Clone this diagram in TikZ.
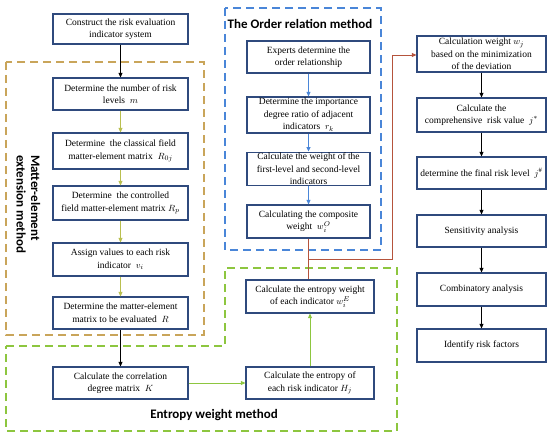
\documentclass[tikz,border=0pt]{standalone}
\usepackage{fontspec}
\setmainfont{Liberation Serif}
\newfontfamily\headfont{Carlito}
\usepackage{tikz}
\usetikzlibrary{arrows.meta}

\definecolor{boxblue}{HTML}{2F4A7D}
\definecolor{matterorange}{HTML}{C9A55A}
\definecolor{olivearrow}{HTML}{B9BF4F}
\definecolor{orderblue}{HTML}{4A86D8}
\definecolor{entropygreen}{HTML}{8DC63F}
\definecolor{linkred}{HTML}{B5533C}

\begin{document}
\begin{tikzpicture}[x=1pt, y=-1pt,
  box/.style={draw=boxblue, line width=1.2pt, fill=white, align=center, inner sep=1pt, font=\fontsize{9.5}{12.5}\selectfont},
  leftbox/.style={box, minimum width=135pt},
  midbox/.style={box, minimum width=123pt},
  rightbox/.style={box, minimum width=129pt},
  flow/.style={-{Triangle[length=4.5pt,width=4pt]}, line width=0.9pt},
  frame/.style={dash pattern=on 8pt off 5pt, line width=1.1pt},
  head/.style={font=\headfont\bfseries\fontsize{13}{14.5}\selectfont}]
  \useasboundingbox (0,0) rectangle (550,438);

  \draw[frame, matterorange] (6,62) rectangle (204,335);
  \draw[frame, orderblue] (225,8) rectangle (381,250);
  \draw[frame, entropygreen] (6,346) -- (225,346) -- (225,268) -- (397,268) -- (397,431) -- (6,431) -- cycle;

  \node[head, rotate=-90, align=left] (mattertitle) at (28.5,204) {Matter-element\\extension method};
  \node[head] (ordertitle) at (300,24) {The Order relation method};
  \node[head] (entropytitle) at (214,415) {Entropy weight method};

  \node[leftbox, minimum height=30pt] (cons) at (120.5,29) {Construct the risk evaluation\\indicator system};
  \node[leftbox, minimum height=32pt] (levels) at (120.5,94) {Determine the number of risk\\levels \ $m$};
  \node[leftbox, minimum height=36pt] (classic) at (120.5,151) {Determine \ the classical field\\matter-element matrix \ $R_{0j}$};
  \node[leftbox, minimum height=34pt] (controlled) at (120.5,203) {Determine \ the controlled\\field matter-element matrix $R_p$};
  \node[leftbox, minimum height=33pt] (assign) at (120.5,259.5) {Assign values to each risk\\indicator \ $v_i$};
  \node[leftbox, minimum height=32pt] (evaluated) at (120.5,313) {Determine the matter-element\\matrix to be evaluated \ $R$};
  \node[leftbox, minimum height=32pt] (correl) at (120.5,383) {Calculate the correlation\\degree matrix \ $K$};

  \node[midbox, minimum height=32pt] (experts) at (308.5,57) {Experts determine the\\order relationship};
  \node[midbox, minimum height=36pt] (ratio) at (308.5,115) {Determine the importance\\degree ratio of adjacent\\indicators \ $r_k$};
  \node[midbox, minimum height=32pt] (firstlevel) at (308.5,169) {Calculate the weight of the\\first-level and second-level\\indicators};
  \node[midbox, minimum height=33pt] (composite) at (308.5,221.5) {Calculating the composite\\weight \ $w_i^{O}$};
  \node[box, minimum width=128pt, minimum height=33pt] (entweight) at (310,296.5) {Calculate the entropy weight\\of each indicator $w_i^{E}$};
  \node[box, minimum width=128pt, minimum height=32pt] (entropy) at (310,383) {Calculate the entropy of\\each risk indicator $H_j$};

  \node[rightbox, minimum height=36pt] (deviation) at (481.5,54) {Calculation weight $w_j$\\based on the minimization\\of the deviation};
  \node[rightbox, minimum height=34pt] (riskvalue) at (481.5,115) {Calculate the\\comprehensive \ risk value \ $j^{*}$};
  \node[rightbox, minimum height=32pt] (risklevel) at (481.5,173) {determine the final risk level \ $j^{\#}$};
  \node[rightbox, minimum height=32pt] (sensitivity) at (481.5,231) {Sensitivity analysis};
  \node[rightbox, minimum height=33pt] (combinatory) at (481.5,289.5) {Combinatory analysis};
  \node[rightbox, minimum height=33pt] (factors) at (481.5,345.5) {Identify risk factors};

  \draw[flow] (cons) -- (levels);
  \draw[flow, olivearrow] (levels) -- (classic);
  \draw[flow, olivearrow] (classic) -- (controlled);
  \draw[flow, olivearrow] (controlled) -- (assign);
  \draw[flow, olivearrow] (assign) -- (evaluated);
  \draw[flow] (evaluated) -- (correl);
  \draw[flow, entropygreen] (correl) -- (entropy);
  \draw[flow, entropygreen] (entropy) -- (entweight);

  \draw[flow, orderblue] (experts) -- (ratio);
  \draw[flow, orderblue] (ratio) -- (firstlevel);
  \draw[flow, orderblue] (firstlevel) -- (composite);

  \coordinate (joint) at (308.5,259);
  \coordinate (turn) at (392,55);
  \draw[linkred, line width=0.9pt] (composite.south) -- (composite.south |- entweight.north);
  \draw[flow, linkred] (joint) -- (joint -| turn) -- (turn) -- (deviation.west |- turn);

  \draw[flow] (deviation) -- (riskvalue);
  \draw[flow] (riskvalue) -- (risklevel);
  \draw[flow] (risklevel) -- (sensitivity);
  \draw[flow] (sensitivity) -- (combinatory);
  \draw[flow] (combinatory) -- (factors);
\end{tikzpicture}
\end{document}
